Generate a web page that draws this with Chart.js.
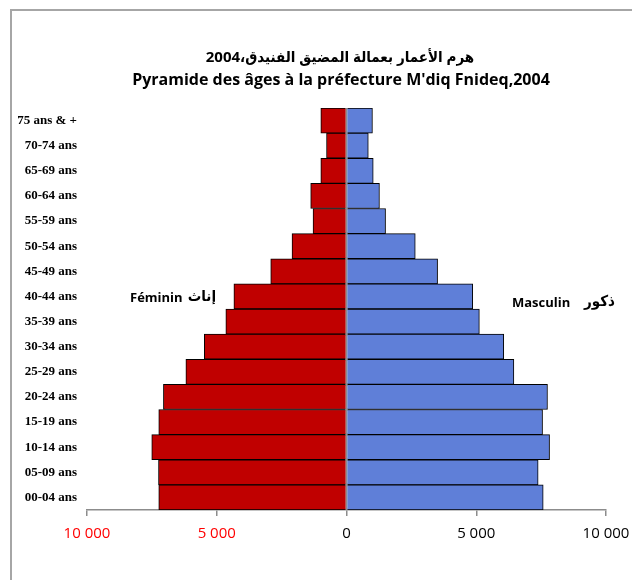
<!DOCTYPE html>
<html lang="fr">
<head>
  <meta charset="UTF-8">
  <title>Pyramide des âges - M'diq Fnideq 2004</title>
  <script src="https://cdn.jsdelivr.net/npm/chart.js"></script>
  <style>
    body {
      margin: 0;
      background: #fff;
    }
    .wrap {
      position: relative;
      width: 632px;
      height: 580px;
    }
    .frame {
      position: absolute;
      left: 10px;
      top: 9px;
      right: 0;
      bottom: 0;
      border-top: 2px solid #a6a6a6;
      border-left: 2px solid #a6a6a6;
    }
    canvas {
      position: absolute;
      left: 0;
      top: 0;
    }
  </style>
</head>
<body>
  <div class="wrap">
    <div class="frame"></div>
    <canvas id="pyramid" width="632" height="580"></canvas>
  </div>

  <script>
    // age groups, top of the pyramid first
    const ageGroups = ['75 ans & +', '70-74 ans', '65-69 ans', '60-64 ans', '55-59 ans', '50-54 ans',
      '45-49 ans', '40-44 ans', '35-39 ans', '30-34 ans', '25-29 ans', '20-24 ans',
      '15-19 ans', '10-14 ans', '05-09 ans', '00-04 ans'];

    // values
    const feminin = [990, 770, 990, 1380, 1290, 2100, 2920, 4340, 4650, 5480, 6190, 7055, 7235, 7505, 7245, 7235];
    const masculin = [1000, 840, 1030, 1270, 1505, 2650, 3510, 4865, 5120, 6060, 6450, 7745, 7555, 7825, 7385, 7580];

    const xTicks = [-10000, -5000, 0, 5000, 10000];

    const titleLines = ['هرم الأعمار بعمالة المضيق الفنيدق،2004', "Pyramide des âges à la préfecture M'diq Fnideq,2004"];

    function fmt(v) {
      return String(Math.abs(v)).replace(/\B(?=(\d{3})+(?!\d))/g, ' ');
    }

    // title, side labels and the zero line on top of the bars
    const extras = {
      id: 'extras',
      afterDatasetsDraw(chart) {
        const ctx = chart.ctx;
        const x = chart.scales.x;
        const area = chart.chartArea;
        const x0 = x.getPixelForValue(0);
        ctx.save();
        ctx.strokeStyle = '#8c8c8c';
        ctx.lineWidth = 1.5;
        ctx.beginPath();
        ctx.moveTo(x0, area.top);
        ctx.lineTo(x0, area.bottom);
        ctx.stroke();
        ctx.restore();
      },
      afterDraw(chart) {
        const ctx = chart.ctx;
        ctx.save();
        ctx.fillStyle = '#000';
        ctx.textBaseline = 'middle';
        ctx.textAlign = 'center';
        ctx.font = 'bold 15px "Open Sans", "DejaVu Sans Condensed", "DejaVu Sans", sans-serif';
        ctx.direction = 'rtl';
        ctx.fillText(titleLines[0], 340, 58);
        ctx.direction = 'ltr';
        ctx.font = 'bold 16px "Open Sans", sans-serif';
        ctx.fillText(titleLines[1], 341, 80);

        ctx.font = 'bold 13px "Open Sans", sans-serif';
        ctx.textAlign = 'left';
        ctx.fillText('Féminin', 130, 298);
        ctx.fillText('Masculin', 512, 303);
        ctx.font = 'bold 15px "DejaVu Sans Condensed", "DejaVu Sans", sans-serif';
        ctx.direction = 'rtl';
        ctx.textAlign = 'right';
        ctx.fillText('إناث', 216, 297);
        ctx.fillText('ذكور', 615, 302);
        ctx.restore();
      }
    };

    new Chart(document.getElementById('pyramid'), {
      type: 'bar',
      data: {
        labels: ageGroups,
        datasets: [{
          label: 'Féminin',
          data: feminin.map(v => -v),
          backgroundColor: '#c00000',
          borderColor: '#000',
          borderWidth: 1
        }, {
          label: 'Masculin',
          data: masculin,
          backgroundColor: '#5f7fd8',
          borderColor: '#000',
          borderWidth: 1
        }]
      },
      options: {
        indexAxis: 'y',
        responsive: false,
        animation: false,
        barPercentage: 1,
        categoryPercentage: 1,
        layout: {
          padding: { top: 108, right: 26, left: 0, bottom: 0 }
        },
        plugins: {
          legend: { display: false },
          tooltip: { enabled: false }
        },
        scales: {
          x: {
            stacked: true,
            min: -10000,
            max: 10000,
            afterBuildTicks(scale) {
              scale.ticks = xTicks.map(v => ({ value: v }));
            },
            afterFit(scale) {
              scale.height = 70;
              scale.paddingLeft = 0;
              scale.paddingRight = 0;
            },
            grid: {
              color: 'transparent',
              tickColor: '#8c8c8c',
              tickLength: 6,
              lineWidth: 1.5
            },
            border: { display: true, color: '#8c8c8c', width: 1.5 },
            ticks: {
              padding: 9,
              maxRotation: 0,
              font: { family: '"Open Sans", sans-serif', size: 15 },
              color: ctx => ctx.tick.value < 0 ? '#ff0000' : '#000',
              callback: v => fmt(v)
            }
          },
          y: {
            stacked: true,
            afterFit(scale) {
              scale.width = 87;
            },
            grid: { display: false, drawTicks: false },
            border: { display: false },
            ticks: {
              padding: 10,
              color: '#000',
              font: { family: '"Liberation Serif", "Times New Roman", serif', size: 13, weight: 'bold' }
            }
          }
        }
      },
      plugins: [extras]
    });
  </script>
</body>
</html>
